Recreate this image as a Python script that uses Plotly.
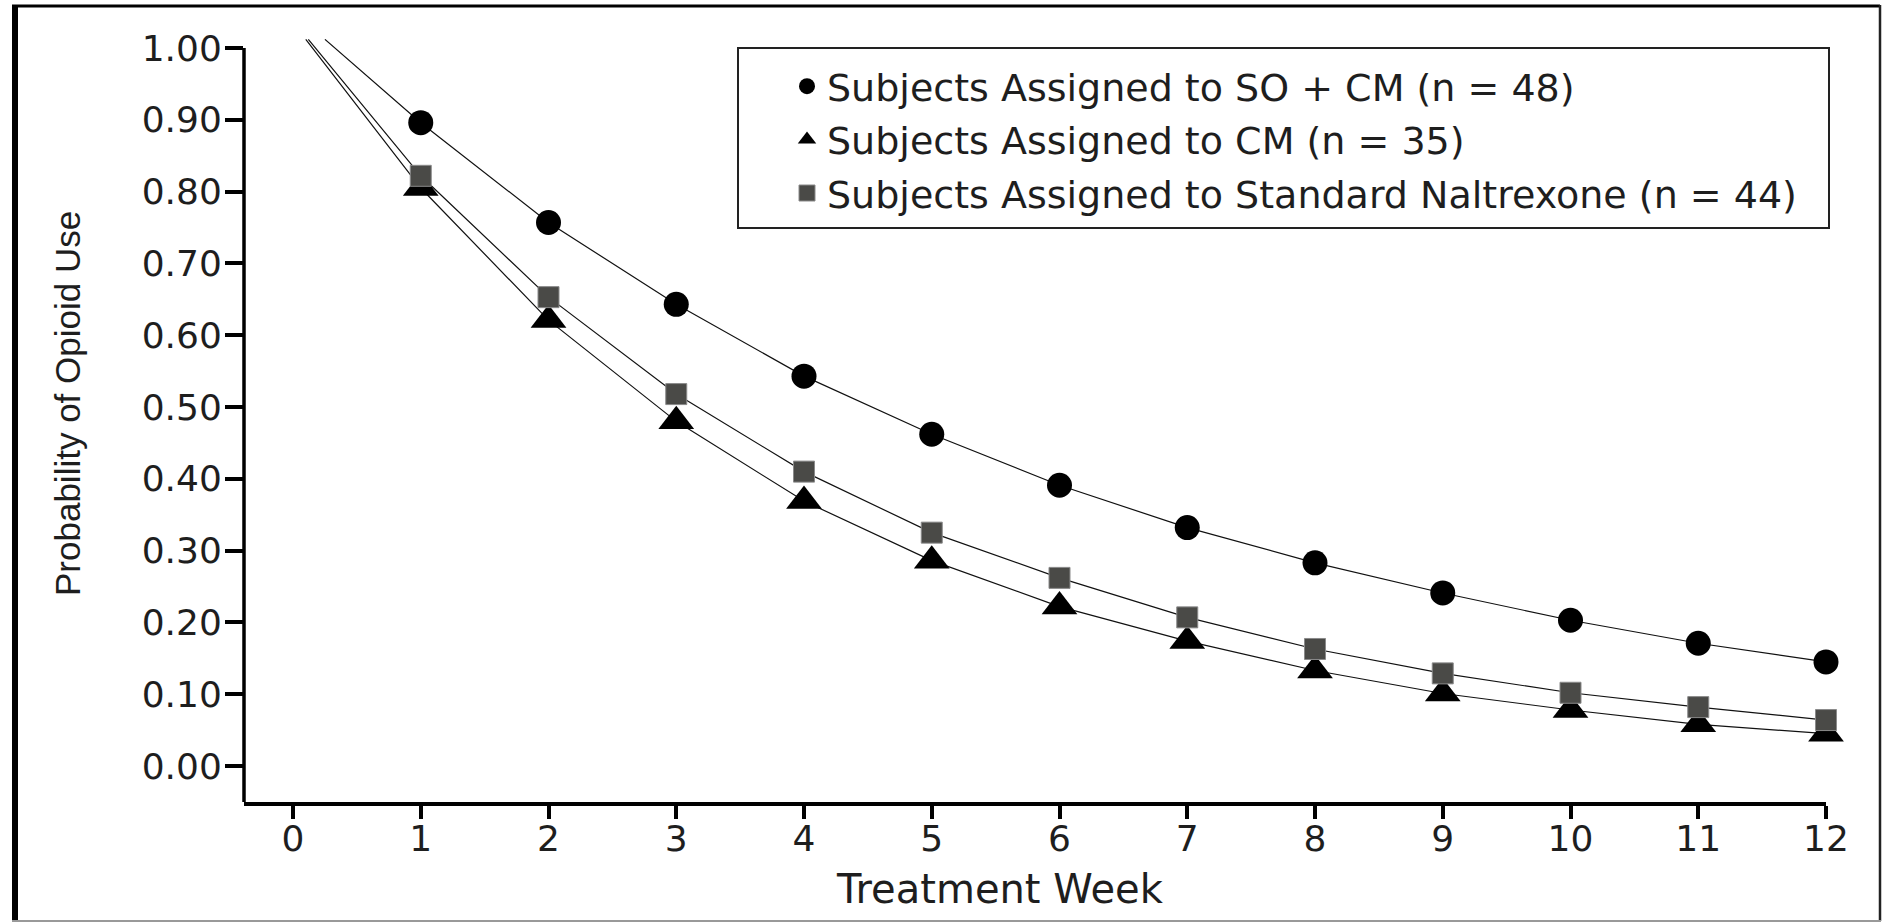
import plotly.graph_objects as go

# ---- data ----
weeks = [1, 2, 3, 4, 5, 6, 7, 8, 9, 10, 11, 12]
so_cm = [0.896, 0.757, 0.643, 0.543, 0.462, 0.391, 0.332, 0.283, 0.241, 0.203, 0.171, 0.145]
cm = [0.805, 0.621, 0.480, 0.369, 0.286, 0.222, 0.174, 0.133, 0.101, 0.078, 0.058, 0.045]
naltrexone = [0.822, 0.653, 0.518, 0.410, 0.325, 0.262, 0.207, 0.163, 0.129, 0.102, 0.082, 0.064]

# fitted curves begin just above the top of the axis
so_cm_start = (0.25, 1.012)
cm_start = (0.10, 1.012)
naltrexone_start = (0.12, 1.012)

names = [
    "Subjects Assigned to SO + CM (n = 48)",
    "Subjects Assigned to CM (n = 35)",
    "Subjects Assigned to Standard Naltrexone (n = 44)",
]
x_title = "Treatment Week"
y_title = "Probability of Opioid Use"
y_ticks = [0.0, 0.1, 0.2, 0.3, 0.4, 0.5, 0.6, 0.7, 0.8, 0.9, 1.0]
y_ticklabels = ["%.2f" % v for v in y_ticks]
x_ticks = list(range(0, 13))

# ---- layout geometry (pixels) ----
W, H = 1885, 922
PL, PR, PT, PB = 244, 1826, 39, 802
UNIT_Y = 718.0        # pixels per 1.0 on y
Y0_PX = 766.0         # pixel row of y = 0
X0_PX = 293.0         # pixel column of week 0
UNIT_X = 127.75       # pixels per week


def px_x(p):
    return (p - PL) / (PR - PL)


def px_y(p):
    return (PB - p) / (PB - PT)


TXT = "#1e1e1e"
FONT = "DejaVu Sans"

fig = go.Figure()

series = [
    (so_cm, so_cm_start, names[0], dict(symbol="circle", size=25, color="#000000")),
    (cm, cm_start, names[1], dict(symbol="triangle-up", size=31, color="#000000")),
    (naltrexone, naltrexone_start, names[2],
     dict(symbol="square", size=21, color="#4a4a47", line=dict(color="#8a8a8a", width=1))),
]

for vals, start, name, mk in series:
    fig.add_trace(go.Scatter(
        x=[start[0]] + weeks, y=[start[1]] + vals, mode="lines",
        line=dict(color="#111111", width=1.2), showlegend=False,
        cliponaxis=False, hoverinfo="skip"))

for i, (vals, start, name, mk) in enumerate(series):
    fig.add_trace(go.Scatter(
        x=weeks, y=vals, mode="markers", name=name, marker=mk,
        cliponaxis=False, legendgroup="g%d" % i))

y_lo = -(PB - Y0_PX) / UNIT_Y
y_hi = (Y0_PX - PT) / UNIT_Y

shapes = [
    # y axis line ending at the 1.00 tick
    dict(type="line", xref="paper", yref="y", x0=0, x1=0, y0=y_lo, y1=1.0,
         line=dict(color="#000000", width=3.5), layer="above"),
    # figure frame
    dict(type="line", xref="paper", yref="paper", x0=px_x(15), x1=px_x(15), y0=px_y(6), y1=px_y(921),
         line=dict(color="#000000", width=6)),
    dict(type="line", xref="paper", yref="paper", x0=px_x(12), x1=px_x(1880), y0=px_y(6), y1=px_y(6),
         line=dict(color="#000000", width=3)),
    dict(type="line", xref="paper", yref="paper", x0=px_x(1880), x1=px_x(1880), y0=px_y(5), y1=px_y(921),
         line=dict(color="#222222", width=2.5)),
    dict(type="line", xref="paper", yref="paper", x0=px_x(12), x1=px_x(1881), y0=px_y(921), y1=px_y(921),
         line=dict(color="#999999", width=2)),
    # legend box
    dict(type="rect", xref="paper", yref="paper", x0=px_x(738), x1=px_x(1829), y0=px_y(48), y1=px_y(228),
         line=dict(color="#222222", width=2), fillcolor="rgba(0,0,0,0)"),
]

annotations = [
    dict(text=x_title, xref="paper", yref="paper", x=px_x(1000), y=px_y(889),
         xanchor="center", yanchor="middle", showarrow=False,
         font=dict(family=FONT, size=40, color=TXT)),
    dict(text=y_title, xref="paper", yref="paper", x=px_x(67), y=px_y(404),
         xanchor="center", yanchor="middle", showarrow=False, textangle=-90,
         font=dict(family="Liberation Sans", size=35, color=TXT)),
]

fig.update_layout(
    width=W, height=H,
    margin=dict(l=PL, r=W - PR, t=PT, b=H - PB, autoexpand=False),
    paper_bgcolor="white", plot_bgcolor="white",
    font=dict(family=FONT, color=TXT, size=36),
    showlegend=True,
    legend=dict(
        x=px_x(787), y=px_y(55), xanchor="left", yanchor="top",
        bgcolor="rgba(0,0,0,0)", borderwidth=0,
        font=dict(family=FONT, size=38, color=TXT),
        tracegroupgap=1, itemsizing="trace",
    ),
    shapes=shapes,
    annotations=annotations,
    xaxis=dict(
        range=[-(X0_PX - PL) / UNIT_X, 12], tickmode="array", tickvals=x_ticks,
        showline=True, linecolor="#000000", linewidth=3.5,
        ticks="outside", ticklen=13, tickwidth=3.5, tickcolor="#000000",
        showgrid=False, zeroline=False,
        tickfont=dict(family=FONT, size=36, color=TXT),
        ticklabelstandoff=-11,
    ),
    yaxis=dict(
        range=[y_lo, y_hi], tickmode="array", tickvals=y_ticks, ticktext=y_ticklabels,
        showline=False,
        ticks="outside", ticklen=18, tickwidth=3.5, tickcolor="#000000",
        showgrid=False, zeroline=False,
        tickfont=dict(family=FONT, size=36, color=TXT),
        ticklabelstandoff=-4,
    ),
)

fig.write_html("out.html")
